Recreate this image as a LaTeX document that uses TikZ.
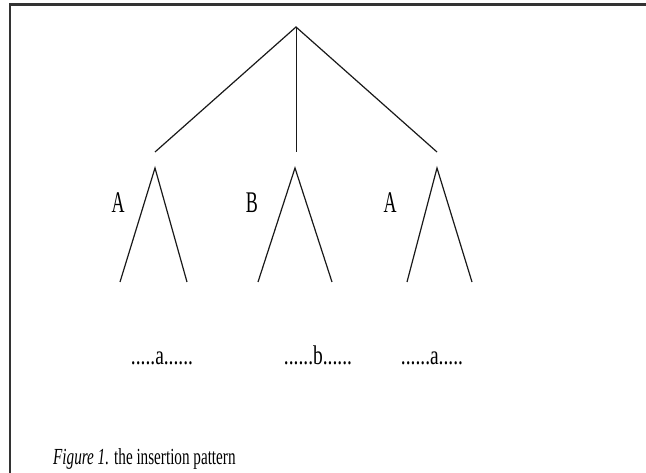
\documentclass[tikz,border=0pt]{standalone}
\usepackage{fontspec}
\setmainfont{Liberation Serif}
\newcommand{\sqz}[2]{\scalebox{#1}[1]{#2}}
\begin{document}
\begin{tikzpicture}[x=1pt,y=-1pt,
  edge/.style={draw=black!90, line width=1.2pt},
  frame/.style={draw=black!80},
  lab/.style={inner sep=0pt, anchor=base, font=\fontsize{30}{30}\selectfont},
  term/.style={inner sep=0pt, anchor=base, font=\fontsize{27}{27}\selectfont},
  captext/.style={inner sep=0pt, anchor=base west, font=\fontsize{23}{23}\selectfont}]
\useasboundingbox (0,0) rectangle (646,473);
\fill[white] (0,0) rectangle (646,473);
% frame
\draw[frame, line width=2.2pt] (9,4.5) -- (646,4.5);
\draw[frame, line width=1.6pt] (10,4) -- (10,473);
% top tree
\coordinate (top) at (296,27);
\coordinate (l) at (155,152);
\coordinate (m) at (296,152);
\coordinate (r) at (437,152);
\draw[edge] (l) -- (top) -- (r);
\draw[edge, line width=0.9pt] (top) -- (m);
% subtrees
\coordinate (a1) at (155,168);
\coordinate (a1l) at (120,282);
\coordinate (a1r) at (187,282);
\coordinate (b1) at (295,168);
\coordinate (b1l) at (258,282);
\coordinate (b1r) at (332,282);
\coordinate (a2) at (437,168);
\coordinate (a2l) at (407,282);
\coordinate (a2r) at (472,282);
\draw[edge] (a1l) -- (a1) -- (a1r);
\draw[edge] (b1l) -- (b1) -- (b1r);
\draw[edge] (a2l) -- (a2) -- (a2r);
% labels
\node[lab] (LA1) at (118,213) {\sqz{0.6}{A}};
\node[lab] (LB) at (252,213) {\sqz{0.6}{B}};
\node[lab] (LA2) at (390,213) {\sqz{0.6}{A}};
% terminal strings
\node[term] (t1) at (162,365) {\sqz{0.72}{.....a......}};
\node[term] (t2) at (318,365) {\sqz{0.72}{......b......}};
\node[term] (t3) at (432,365) {\sqz{0.72}{......a.....}};
% caption
\node[captext] (caption) at (53,464) {\sqz{0.66}{\textit{Figure 1.} the insertion pattern}};
\end{tikzpicture}
\end{document}
